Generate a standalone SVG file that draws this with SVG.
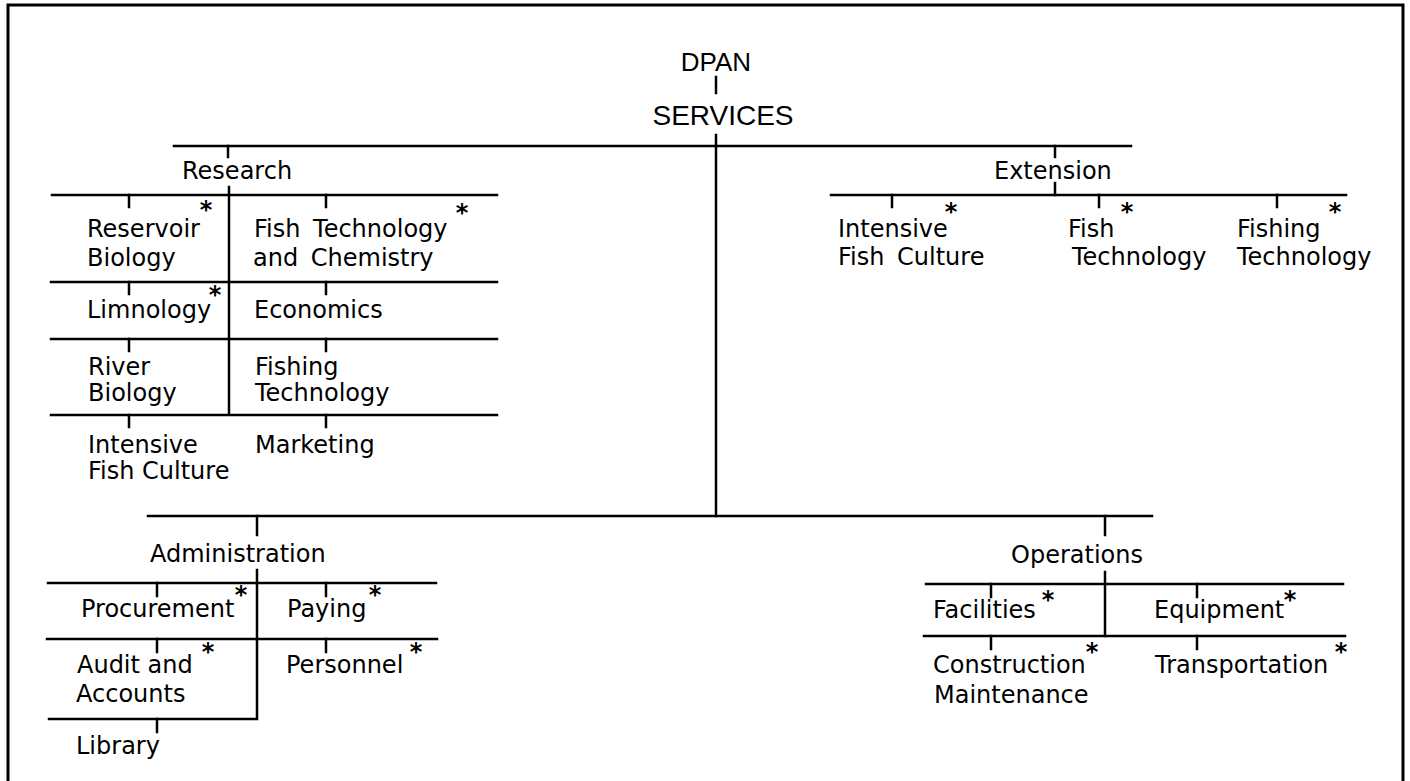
<svg xmlns="http://www.w3.org/2000/svg" width="1410" height="781" viewBox="0 0 1410 781">
<style>
.ln{stroke:#000;stroke-width:2.5;fill:none;stroke-linecap:square}
.fr{stroke:#000;stroke-width:3;fill:none}
.t{font-family:"DejaVu Sans",sans-serif;font-size:24px;fill:#000}
.h{font-family:"Liberation Sans",Arial,sans-serif;fill:#000;text-anchor:middle}
.a{font-family:"DejaVu Sans",sans-serif;font-weight:bold;font-size:24px;fill:#000;text-anchor:middle}
.w{word-spacing:5px}
</style>
<rect width="1410" height="781" fill="#fff"/>
<path class="fr" d="M8,781 V5 H1403 V781"/>
<g id="connectors">
<path class="ln" d="M716,77 V93"/>
<path class="ln" d="M716,135 V516"/>
<path class="ln" d="M174,146 H1131"/>
<path class="ln" d="M228,146 V157"/>
<path class="ln" d="M229,187 V414"/>
<path class="ln" d="M52,195 H497 M51,282 H497 M51,339 H497 M51,415 H497"/>
<path class="ln" d="M129,195 V207 M326,195 V207 M129,282 V294 M326,282 V294 M129,339 V351 M326,339 V351 M129,415 V427 M326,415 V427"/>
<path class="ln" d="M1055,146 V157 M1055,183 V195"/>
<path class="ln" d="M831,195 H1346"/>
<path class="ln" d="M892,195 V207 M1099,195 V207 M1277,195 V207"/>
<path class="ln" d="M148,516 H1152"/>
<path class="ln" d="M257,516 V535 M1105,516 V535"/>
<path class="ln" d="M257,570 V719 H49"/>
<path class="ln" d="M48,583 H436 M47,639 H437"/>
<path class="ln" d="M157,583 V596 M326,583 V596 M157,639 V652 M326,639 V652 M157,719 V732"/>
<path class="ln" d="M1105,572 V636"/>
<path class="ln" d="M926,584 H1343 M924,636 H1345"/>
<path class="ln" d="M991,584 V597 M1197,584 V597 M991,636 V649 M1197,636 V649"/>
</g>
<g id="dpan"><text class="h" x="716" y="71" font-size="26">DPAN</text></g>
<g id="services"><text class="h" x="723" y="125" font-size="28">SERVICES</text></g>
<g id="research"><text class="t" x="182" y="179">Research</text></g>
<g id="reservoir-biology"><text class="t" x="87" y="237">Reservoir</text><text class="t" x="87" y="266">Biology</text><text class="a" x="206" y="218">*</text></g>
<g id="fish-tech-chem"><text class="t w" x="254" y="237">Fish Technology</text><text class="t w" x="253" y="266">and Chemistry</text><text class="a" x="462" y="221">*</text></g>
<g id="limnology"><text class="t" x="87" y="318">Limnology</text><text class="a" x="215" y="303">*</text></g>
<g id="economics"><text class="t" x="254" y="318">Economics</text></g>
<g id="river-biology"><text class="t" x="88" y="375">River</text><text class="t" x="88" y="401">Biology</text></g>
<g id="fishing-technology-r"><text class="t" x="255" y="375">Fishing</text><text class="t" x="255" y="401">Technology</text></g>
<g id="intensive-fish-culture-r"><text class="t" x="88" y="453">Intensive</text><text class="t" x="88" y="479">Fish Culture</text></g>
<g id="marketing"><text class="t" x="255" y="453">Marketing</text></g>
<g id="extension"><text class="t" x="994" y="179">Extension</text></g>
<g id="intensive-fish-culture-e"><text class="t" x="838" y="237">Intensive</text><text class="t w" x="838" y="265">Fish Culture</text><text class="a" x="951" y="220">*</text></g>
<g id="fish-technology-e"><text class="t" x="1068" y="237">Fish</text><text class="t" x="1072" y="265">Technology</text><text class="a" x="1127" y="220">*</text></g>
<g id="fishing-technology-e"><text class="t" x="1237" y="237">Fishing</text><text class="t" x="1237" y="265">Technology</text><text class="a" x="1335" y="220">*</text></g>
<g id="administration"><text class="t" x="150" y="562">Administration</text></g>
<g id="procurement"><text class="t" x="81" y="617">Procurement</text><text class="a" x="241" y="603">*</text></g>
<g id="paying"><text class="t" x="287" y="617">Paying</text><text class="a" x="375" y="603">*</text></g>
<g id="audit-accounts"><text class="t" x="77" y="673">Audit and</text><text class="t" x="76" y="702">Accounts</text><text class="a" x="208" y="660">*</text></g>
<g id="personnel"><text class="t" x="286" y="673">Personnel</text><text class="a" x="416" y="660">*</text></g>
<g id="library"><text class="t" x="76" y="754">Library</text></g>
<g id="operations"><text class="t" x="1011" y="563">Operations</text></g>
<g id="facilities"><text class="t" x="933" y="618">Facilities</text><text class="a" x="1048" y="608">*</text></g>
<g id="equipment"><text class="t" x="1154" y="618">Equipment</text><text class="a" x="1290" y="608">*</text></g>
<g id="construction-maintenance"><text class="t" x="933" y="673">Construction</text><text class="t" x="934" y="703">Maintenance</text><text class="a" x="1092" y="660">*</text></g>
<g id="transportation"><text class="t" x="1155" y="673">Transportation</text><text class="a" x="1341" y="660">*</text></g>
</svg>
